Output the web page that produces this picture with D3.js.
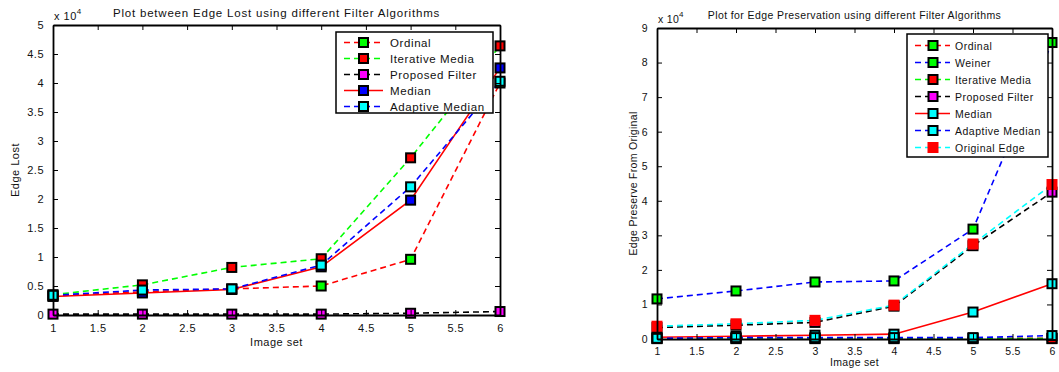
<!DOCTYPE html>
<html>
<head>
<meta charset="utf-8">
<script src="https://cdn.jsdelivr.net/npm/d3@7"></script>
<style>
  html, body { margin: 0; padding: 0; background: #fff; }
  svg { display: block; font-family: "Liberation Sans", Arial, Helvetica, sans-serif; }
</style>
</head>
<body>
<svg id="chart" width="1059" height="372"></svg>
<script>
// ---------------- DATA ----------------
const imageSet = [1, 2, 3, 4, 5, 6];
const xTickValues = [1, 1.5, 2, 2.5, 3, 3.5, 4, 4.5, 5, 5.5, 6];
const xTickLabels = ["1", "1.5", "2", "2.5", "3", "3.5", "4", "4.5", "5", "5.5", "6"];

// Left chart: Edge Lost
const leftTitle = "Plot between Edge Lost using different Filter Algorithms";
const leftYLabel = "Edge Lost";
const leftYTicks = [0, 5000, 10000, 15000, 20000, 25000, 30000, 35000, 40000, 45000, 50000];
const leftYTickLabels = ["0", "0.5", "1", "1.5", "2", "2.5", "3", "3.5", "4", "4.5", "5"];
const lostOrdinal   = [3300, 4000, 4500, 5000, 9600, 40000];
const lostIterative = [3500, 5200, 8200, 9700, 27100, 46400];
const lostProposed  = [150, 150, 150, 150, 300, 600];
const lostMedian    = [3200, 3800, 4400, 8300, 19800, 42600];
const lostAdaptive  = [3400, 4300, 4500, 8600, 22100, 40300];

// Right chart: Edge Preservation
const rightTitle = "Plot for Edge Preservation using different Filter Algorithms";
const rightYLabel = "Edge Preserve From Original";
const rightYTicks = [0, 10000, 20000, 30000, 40000, 50000, 60000, 70000, 80000, 90000];
const rightYTickLabels = ["0", "1", "2", "3", "4", "5", "6", "7", "8", "9"];
const presOrdinal   = [200, 200, 200, 200, 200, 200];
const presWeiner    = [11600, 13900, 16500, 16800, 31800, 85800];
const presIterative = [100, 100, 100, 100, 100, 100];
const presProposed  = [3300, 4000, 4800, 9500, 27000, 42500];
const presMedian    = [500, 800, 1100, 1400, 7800, 16000];
const presAdaptive  = [200, 400, 400, 400, 400, 1000];
const presOriginal  = [3700, 4400, 5400, 9800, 27500, 44700];

const leftSeries = [
  { name: "Ordinal",         values: lostOrdinal,   line: "#ff0000", dash: "6,4", marker: "#00ff00", edge: "#000" },
  { name: "Iterative Media", values: lostIterative, line: "#00ff00", dash: "6,4", marker: "#ff0000", edge: "#000" },
  { name: "Proposed Filter", values: lostProposed,  line: "#000000", dash: "6,4", marker: "#ff00ff", edge: "#000" },
  { name: "Median",          values: lostMedian,    line: "#ff0000", dash: null,  marker: "#0000ff", edge: "#000" },
  { name: "Adaptive Median", values: lostAdaptive,  line: "#0000ff", dash: "6,4", marker: "#00ffff", edge: "#000" }
];
const rightSeries = [
  { name: "Ordinal",         values: presOrdinal,   line: "#ff0000", dash: "6,4", marker: "#00ff00", edge: "#000" },
  { name: "Weiner",          values: presWeiner,    line: "#0000ff", dash: "6,4", marker: "#00ff00", edge: "#000" },
  { name: "Iterative Media", values: presIterative, line: "#00ff00", dash: "6,4", marker: "#ff0000", edge: "#000" },
  { name: "Proposed Filter", values: presProposed,  line: "#000000", dash: "6,4", marker: "#ff00ff", edge: "#000" },
  { name: "Median",          values: presMedian,    line: "#ff0000", dash: null,  marker: "#00ffff", edge: "#000" },
  { name: "Adaptive Median", values: presAdaptive,  line: "#0000ff", dash: "6,4", marker: "#00ffff", edge: "#000" },
  { name: "Original Edge",   values: presOriginal,  line: "#00ffff", dash: "6,4", marker: "#ff0000", edge: null }
];

const svg = d3.select("#chart");

function drawChart(cfg) {
  const F = cfg.fonts;
  const g = svg.append("g");
  const x = d3.scaleLinear().domain([1, 6]).range([cfg.left, cfg.right]);
  const y = d3.scaleLinear().domain([0, cfg.yMax]).range([cfg.bottom, cfg.top]);
  const tickLen = 5;

  // data lines
  const line = d3.line().x((d, i) => x(imageSet[i])).y(d => y(d));
  cfg.series.forEach(s => {
    g.append("path")
      .attr("d", line(s.values))
      .attr("fill", "none")
      .attr("stroke", s.line)
      .attr("stroke-width", 1.6)
      .attr("stroke-dasharray", s.dash);
  });
  // markers
  cfg.series.forEach(s => {
    const sz = s.edge ? 9 : 11;
    g.selectAll(null).data(s.values).enter().append("rect")
      .attr("x", (d, i) => x(imageSet[i]) - sz / 2)
      .attr("y", d => y(d) - sz / 2)
      .attr("width", sz).attr("height", sz)
      .attr("fill", s.marker)
      .attr("stroke", s.edge || "none")
      .attr("stroke-width", 2);
  });

  // axes (MATLAB box with inward ticks)
  const bottomAxis = d3.axisBottom(x).tickValues(xTickValues)
    .tickFormat((d, i) => xTickLabels[i]).tickSizeInner(-tickLen).tickSizeOuter(0).tickPadding(9);
  const topAxis = d3.axisTop(x).tickValues(xTickValues)
    .tickFormat("").tickSizeInner(-tickLen).tickSizeOuter(0);
  const leftAxis = d3.axisLeft(y).tickValues(cfg.yTicks)
    .tickFormat((d, i) => cfg.yTickLabels[i]).tickSizeInner(-tickLen).tickSizeOuter(0).tickPadding(9);
  const rightAxis = d3.axisRight(y).tickValues(cfg.yTicks)
    .tickFormat("").tickSizeInner(-tickLen).tickSizeOuter(0);

  const styleAxis = sel => {
    sel.selectAll(".domain").attr("stroke", "#000").attr("stroke-width", 1.8);
    sel.selectAll(".tick line").attr("stroke", "#000").attr("stroke-width", 1);
    sel.selectAll(".tick text").attr("fill", "#111")
      .style("font-size", F.tick + "px").style("letter-spacing", F.tickLs + "px")
      .style("font-family", "'Liberation Sans', Arial, sans-serif");
  };
  g.append("g").attr("transform", `translate(0,${cfg.bottom})`).call(bottomAxis).call(styleAxis);
  g.append("g").attr("transform", `translate(0,${cfg.top})`).call(topAxis).call(styleAxis);
  g.append("g").attr("transform", `translate(${cfg.left},0)`).call(leftAxis).call(styleAxis);
  g.append("g").attr("transform", `translate(${cfg.right},0)`).call(rightAxis).call(styleAxis);

  // exponent
  const ex = g.append("text").attr("x", cfg.left + 1).attr("y", cfg.top - 5)
    .style("font-size", F.tick + "px").style("letter-spacing", F.tickLs + "px").attr("fill", "#111");
  ex.append("tspan").text("x 10");
  ex.append("tspan").attr("dy", -6).style("font-size", "8px").text("4");

  // title
  g.append("text").attr("x", (cfg.left + cfg.right) / 2).attr("y", cfg.titleY)
    .attr("text-anchor", "middle").style("font-size", F.title + "px").style("letter-spacing", F.titleLs + "px")
    .attr("fill", "#111").text(cfg.title);
  // x label
  g.append("text").attr("x", (cfg.left + cfg.right) / 2).attr("y", cfg.xLabelY)
    .attr("text-anchor", "middle").style("font-size", F.tick + "px").style("letter-spacing", F.tickLs + "px")
    .attr("fill", "#111").text("Image set");
  // y label
  g.append("text").attr("transform", `translate(${cfg.yLabelX},${(cfg.top + cfg.bottom) / 2}) rotate(-90)`)
    .attr("text-anchor", "middle").style("font-size", F.tick + "px").style("letter-spacing", F.tickLs + "px")
    .attr("fill", "#111").text(cfg.yLabel);

  // legend
  const L = cfg.legend;
  const lg = g.append("g");
  lg.append("rect").attr("x", L.x).attr("y", L.y).attr("width", L.w).attr("height", L.h)
    .attr("fill", "#fff").attr("stroke", "#000").attr("stroke-width", 1.5);
  cfg.series.forEach((s, i) => {
    const yy = L.y + L.first + i * L.step;
    lg.append("line").attr("x1", L.x + L.lineX1).attr("x2", L.x + L.lineX2).attr("y1", yy).attr("y2", yy)
      .attr("stroke", s.line).attr("stroke-width", 1.6).attr("stroke-dasharray", s.dash);
    const sz = s.edge ? 9 : 11;
    lg.append("rect").attr("x", L.x + L.markX - sz / 2).attr("y", yy - sz / 2).attr("width", sz).attr("height", sz)
      .attr("fill", s.marker).attr("stroke", s.edge || "none").attr("stroke-width", 2);
    lg.append("text").attr("x", L.x + L.textX).attr("y", yy + 4)
      .style("font-size", F.legend + "px").style("letter-spacing", F.legendLs + "px").attr("fill", "#111").text(s.name);
  });
}

drawChart({
  left: 53, right: 500, top: 25, bottom: 315, yMax: 50000,
  yTicks: leftYTicks, yTickLabels: leftYTickLabels,
  title: leftTitle, yLabel: leftYLabel, series: leftSeries,
  titleY: 17, xLabelY: 346, yLabelX: 19,
  fonts: { tick: 11, tickLs: 0.5, title: 11.5, titleLs: 0.8, legend: 11.5, legendLs: 0.6 },
  legend: { x: 336, y: 32, w: 157, h: 81, first: 10.5, step: 16, lineX1: 8, lineX2: 47, markX: 27.5, textX: 54 }
});
drawChart({
  left: 657, right: 1052, top: 28, bottom: 339, yMax: 90000,
  yTicks: rightYTicks, yTickLabels: rightYTickLabels,
  title: rightTitle, yLabel: rightYLabel, series: rightSeries,
  titleY: 19, xLabelY: 366, yLabelX: 637,
  fonts: { tick: 10.5, tickLs: 0.3, title: 10.5, titleLs: 0.4, legend: 10.5, legendLs: 0.5 },
  legend: { x: 907, y: 34, w: 141, h: 123, first: 11.5, step: 17, lineX1: 8, lineX2: 43, markX: 26, textX: 48 }
});
</script>
</body>
</html>
